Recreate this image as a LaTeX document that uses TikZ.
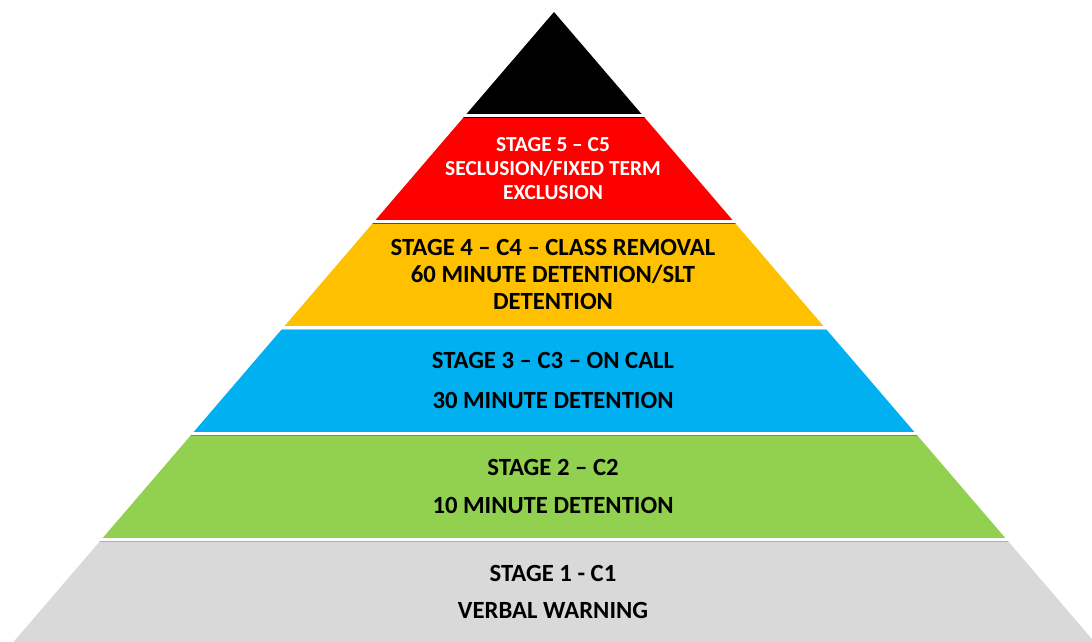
\documentclass[tikz,border=0pt]{standalone}
\usepackage{fontspec}
\setmainfont{Carlito}
\definecolor{stagered}{HTML}{FF0000}
\definecolor{stageorange}{HTML}{FFC000}
\definecolor{stageblue}{HTML}{00B0F0}
\definecolor{stagegreen}{HTML}{92D050}
\definecolor{stagegray}{HTML}{D9D9D9}
\tikzset{
  stagetext/.style={align=center, font=\fontsize{24.7}{27}\selectfont\bfseries, text=black, inner sep=0pt},
  toptext/.style={stagetext, font=\fontsize{21.4}{24}\selectfont\bfseries, text=white}
}
\begin{document}
\begin{tikzpicture}[x=1pt, y=-1pt, line join=round]
	\useasboundingbox (0,0) rectangle (1092,642);
	% bands of the pyramid, apex at (554,12)
	\foreach \col [count=\i from 0] in {black,stagered,stageorange,stageblue,stagegreen,stagegray} {
		\pgfmathsetmacro\yt{12+106*\i}
		\pgfmathsetmacro\yb{12+106*(\i+1)}
		\fill[\col] ({554-0.858*(\yt-12)},\yt) -- ({554+0.858*(\yt-12)},\yt)
			-- ({554+0.858*(\yb-12)},\yb) -- ({554-0.858*(\yb-12)},\yb) -- cycle;
	}
	% white gaps between the bands
	\foreach \i in {1,...,5}
		\draw[white, line width=3pt] (0,{12+106*\i-2.5}) -- (1092,{12+106*\i-2.5});
	% labels
	\node[toptext] (s5) at (553,169) {STAGE 5 – C5\\SECLUSION/FIXED TERM\\EXCLUSION};
	\node[stagetext] (s4) at (553,274) {STAGE 4 – C4 – CLASS REMOVAL\\60 MINUTE DETENTION/SLT\\DETENTION};
	\node[stagetext] (s3) at (553,380) {STAGE 3 – C3 – ON CALL\\[13pt]30 MINUTE DETENTION};
	\node[stagetext] (s2) at (553,486) {STAGE 2 – C2\\[11pt]10 MINUTE DETENTION};
	\node[stagetext] (s1) at (553,592) {STAGE 1 - C1\\[10pt]VERBAL WARNING};
\end{tikzpicture}
\end{document}
